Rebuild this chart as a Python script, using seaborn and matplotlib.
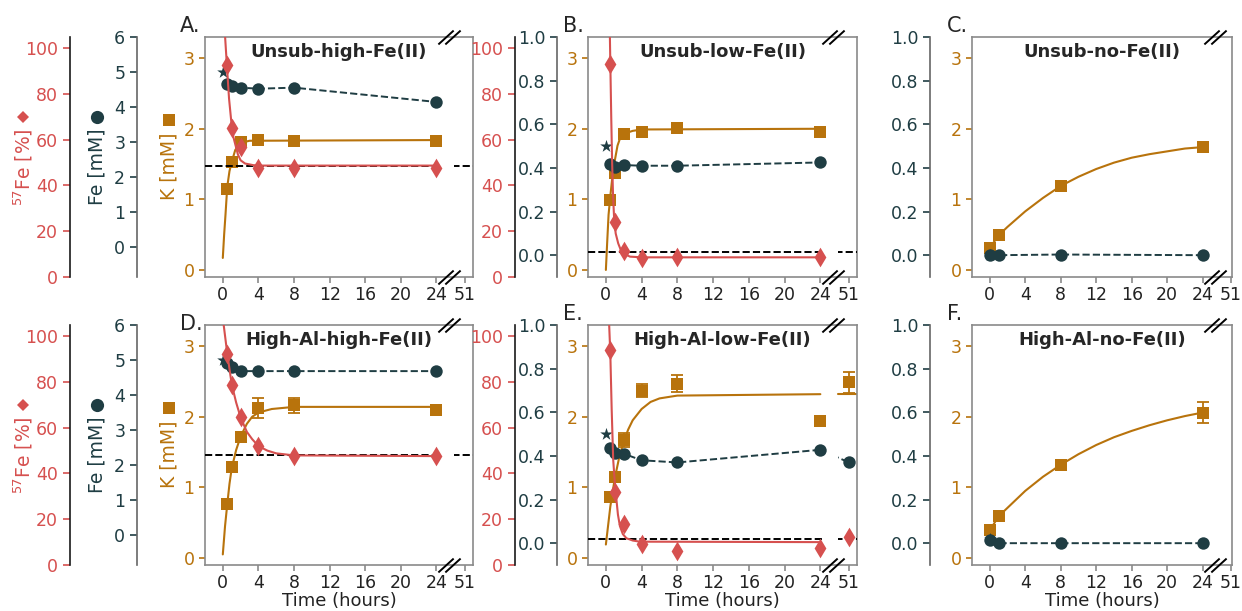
import numpy as np
import matplotlib
matplotlib.use("Agg")
import matplotlib.pyplot as plt
import seaborn as sns
from matplotlib.path import Path
from matplotlib.transforms import blended_transform_factory

sns.set_theme(style="ticks")
plt.rcParams["font.family"] = ["DejaVu Sans"]

RED = "#d6504f"
BROWN = "#b8730c"
DARK = "#1f3d43"

# ---------------- data (hours; 51 h sits behind the axis break) ----------------
# A. Unsub-high-Fe(II)
a_t = [0.5, 1, 2, 4, 8, 24]
a_fe = [4.65, 4.60, 4.55, 4.52, 4.55, 4.14]
a_k = [1.15, 1.53, 1.81, 1.84, 1.83, 1.83]
a_k_err = [0, 0, 0.06, 0, 0, 0]
a_fe57 = [92.5, 65.2, 57.0, 47.6, 47.6, 47.6]
a_fe0 = 5.0
a_eq = 48.3
a_kfit_t = [0, 0.15, 0.3, 0.5, 0.75, 1.0, 1.4, 2.0, 3.0, 24]
a_kfit = [0.17, 0.50, 0.78, 1.18, 1.40, 1.53, 1.70, 1.80, 1.83, 1.84]
a_fefit_t = [0.15, 0.26, 0.45, 0.7, 1.0, 1.2, 1.4, 1.7, 2.0, 2.5, 3.4, 4, 24]
a_fefit = [115, 104.8, 93, 78, 66, 61, 58, 53.5, 51, 49.6, 48.9, 48.7, 48.7]

# B. Unsub-low-Fe(II)
b_t = [0.5, 1, 2, 4, 8, 24]
b_fe = [0.417, 0.405, 0.413, 0.41, 0.41, 0.425]
b_k = [0.99, 1.38, 1.93, 1.96, 2.01, 1.95]
b_k_err = [0.04, 0, 0.03, 0, 0, 0]
b_fe57 = [93.0, 24.0, 11.5, 8.2, 8.7, 8.8]
b_fe0 = 0.50
b_eq = 11.1
b_kfit_t = [0, 0.15, 0.3, 0.5, 0.8, 1.0, 1.3, 1.6, 2.0, 3, 4, 24]
b_kfit = [0.0, 0.40, 0.78, 1.05, 1.40, 1.55, 1.76, 1.87, 1.93, 1.97, 1.99, 2.0]
b_fefit_t = [0.4, 0.45, 0.5, 0.6, 0.7, 0.8, 0.93, 1.1, 1.38, 1.7, 2.0, 2.7, 4, 24]
b_fefit = [115, 104.8, 93, 70, 50, 36, 25, 19, 14.7, 11.5, 10.2, 8.9, 8.6, 8.6]

# C. Unsub-no-Fe(II)
c_t = [0, 1, 8, 24]
c_fe = [0.0, 0.0, 0.003, 0.0]
c_k = [0.31, 0.49, 1.19, 1.74]
c_k_err = [0, 0, 0.04, 0]
c_fe0 = 0.0
c_kfit_t = [0, 1, 2, 4, 6, 8, 10, 12, 14, 16, 18, 20, 22, 24]
c_kfit = [0.31, 0.49, 0.61, 0.83, 1.02, 1.19, 1.32, 1.43, 1.52, 1.59, 1.64, 1.68, 1.72, 1.74]

# D. High-Al-high-Fe(II)
d_t = [0.5, 1, 2, 4, 8, 24]
d_fe = [4.90, 4.81, 4.68, 4.68, 4.68, 4.68]
d_k = [0.76, 1.29, 1.72, 2.12, 2.16, 2.10]
d_k_err = [0.03, 0.03, 0.03, 0.14, 0.10, 0.03]
d_fe57 = [92.4, 78.6, 64.5, 52.0, 47.6, 47.6]
d_fe0 = 5.0
d_eq = 48.1
d_kfit_t = [0, 0.25, 0.5, 0.75, 1, 1.5, 2, 2.7, 3.3, 4, 5.5, 8, 24]
d_kfit = [0.05, 0.45, 0.76, 1.05, 1.27, 1.53, 1.72, 1.90, 2.0, 2.06, 2.11, 2.14, 2.14]
d_fefit_t = [0, 0.5, 1, 1.5, 2, 2.7, 3.3, 4, 5, 6, 8, 24]
d_fefit = [108, 92.4, 79, 71, 64.5, 58.2, 55, 52, 50, 48.8, 47.9, 47.6]

# E. High-Al-low-Fe(II)
e_t = [0.5, 1, 2, 4, 8, 24, 51]
e_fe = [0.437, 0.415, 0.41, 0.38, 0.37, 0.428, 0.37]
e_k = [0.86, 1.15, 1.67, 2.37, 2.47, 1.94, 2.49]
e_k_err = [0.03, 0.03, 0.10, 0.09, 0.12, 0.0, 0.15]
e_fe57 = [93.9, 31.7, 17.9, 9.0, 6.3, 7.6, 12.1]
e_fe0 = 0.50
e_eq = 11.2
e_kfit_t = [0, 0.5, 1, 1.5, 2, 2.5, 3, 4, 5, 6, 8, 24]
e_kfit = [0.19, 0.73, 1.13, 1.43, 1.65, 1.82, 1.95, 2.11, 2.21, 2.26, 2.30, 2.32]
e_fefit_t = [0.3, 0.37, 0.5, 0.65, 0.82, 1.0, 1.12, 1.35, 1.57, 1.9, 2.3, 3, 3.8, 24]
e_fefit = [115, 104.8, 92, 68, 46, 36, 31, 22, 17, 13.5, 11.7, 10.7, 10.2, 10.0]

# F. High-Al-no-Fe(II)
f_t = [0, 1, 8, 24]
f_fe = [0.015, 0.0, 0.0, 0.0]
f_k = [0.39, 0.59, 1.32, 2.06]
f_k_err = [0.02, 0.02, 0.03, 0.15]
f_fe0 = 0.02
f_kfit_t = [0, 1, 2, 4, 6, 8, 10, 12, 14, 16, 18, 20, 22, 24]
f_kfit = [0.39, 0.59, 0.71, 0.95, 1.15, 1.32, 1.47, 1.60, 1.71, 1.80, 1.88, 1.95, 2.01, 2.06]

x_ticks = [0, 4, 8, 12, 16, 20, 24, 51]
x_ticklabels = ["0", "4", "8", "12", "16", "20", "24", "51"]

# ---------------- layout ----------------
W, H = 1242, 611
XMIN = -2.0
GAP = (24.5, 26.0)   # hidden stretch of the time axis
BREAK_AT = 25.4      # where the // marks sit
POS_51 = 27.2        # plotted position of the 51 h point


def xpos(t):
    t = np.asarray(t, dtype=float)
    return np.where(t > 24, POS_51, t)


def clip_gap(artist, ax, xmax):
    tr = blended_transform_factory(ax.transData, ax.transAxes)
    verts = [(XMIN, 0), (GAP[0], 0), (GAP[0], 1), (XMIN, 1), (XMIN, 0),
             (GAP[1], 0), (xmax, 0), (xmax, 1), (GAP[1], 1), (GAP[1], 0)]
    codes = [Path.MOVETO, Path.LINETO, Path.LINETO, Path.LINETO, Path.CLOSEPOLY] * 2
    artist.set_clip_path(Path(verts, codes), tr)


def add_twin(ax, frac, lim, ticks, color, spine_color):
    tw = ax.twinx()
    tw.set_ylim(*lim)
    tw.set_yticks(ticks)
    sp = tw.spines["left"]
    sp.set_visible(True)
    sp.set_position(("axes", frac))
    sp.set_color(spine_color)
    sp.set_linewidth(1.2)
    for s in ("right", "top", "bottom"):
        tw.spines[s].set_visible(False)
    tw.yaxis.set_ticks_position("left")
    tw.yaxis.set_label_position("left")
    tw.tick_params(axis="y", colors=color, labelsize=12.5, length=5, width=1.2)
    return tw


BREAK_MARK = Path([(-0.8, -0.5), (0.3, 0.5), (-0.3, -0.5), (0.8, 0.5)],
                  [Path.MOVETO, Path.LINETO, Path.MOVETO, Path.LINETO])

fig = plt.figure(figsize=(W / 100, H / 100), dpi=100)


def fig_pt(x_px, y_px):
    return x_px / W, 1 - y_px / H


def side_label(text, x_px, y_px, color, marker, ms, m_dy):
    fx, fy = fig_pt(x_px, y_px)
    fig.text(fx, fy, text, rotation=90, ha="center", va="center",
             color=color, fontsize=13.5)
    mx, my = fig_pt(x_px, y_px - m_dy)
    fig.add_artist(plt.Line2D([mx], [my], ls="none", marker=marker, ms=ms,
                              color=color, mew=0))


def panel(px, py, letter, title, t, fe, k, k_err, fe0, kfit_t, kfit,
          fe_px, fe_lim, fe_ticks, fe57=None, eq=None, fefit_t=None, fefit=None,
          red_px=None, xmax=28.1, labels=False, xlabel=False, k_tail=False,
          letter_y=1.02):
    x0, x1 = px
    y0, y1 = py
    w = x1 - x0
    ax = fig.add_axes([x0 / W, (H - y1) / H, w / W, (y1 - y0) / H])
    ax.set_xlim(XMIN, xmax)
    ax.set_ylim(-0.1, 3.3)
    for s in ax.spines.values():
        s.set_color("#8a8a8a")
        s.set_linewidth(1.2)

    # K on the main axis
    sns.lineplot(x=xpos(kfit_t), y=kfit, ax=ax, color=BROWN, lw=1.5, estimator=None)
    clip_gap(ax.lines[-1], ax, xmax)
    if k_tail:
        ax.axhline(kfit[-1], xmin=(GAP[1] - XMIN) / (xmax - XMIN), xmax=1,
                   color=BROWN, lw=1.5)
    ax.errorbar(xpos(t), k, yerr=k_err, fmt="none", ecolor=BROWN,
                elinewidth=1.3, capsize=4, capthick=1.3, zorder=2.5)
    sns.scatterplot(x=xpos(t), y=k, ax=ax, marker="s", s=65, color=BROWN,
                    linewidth=0, zorder=3)
    ax.set_yticks([0, 1, 2, 3])
    ax.tick_params(axis="y", color=BROWN, labelcolor=BROWN, labelsize=12.5,
                   length=4, width=1.2)
    ax.set_xticks([float(v) for v in xpos(x_ticks)])
    ax.set_xticklabels(x_ticklabels)
    ax.tick_params(axis="x", color="#8a8a8a", labelcolor="#222222",
                   labelsize=12.5, length=4, width=1.2, pad=2.5)
    ax.set_ylabel("")
    ax.set_xlabel("")

    # Fe on the first twin
    axf = add_twin(ax, (fe_px - x0) / w, fe_lim, fe_ticks, DARK, "#666666")
    sns.lineplot(x=xpos(t), y=fe, ax=axf, color=DARK, lw=1.4, linestyle="--",
                 estimator=None)
    clip_gap(axf.lines[-1], axf, xmax)
    sns.scatterplot(x=xpos(t), y=fe, ax=axf, marker="o", s=80, color=DARK,
                    linewidth=0, zorder=3)
    sns.scatterplot(x=[0.0], y=[fe0], ax=axf, marker="*", s=90, color=DARK,
                    linewidth=0, zorder=3)
    axf.set_ylabel("")

    # 57Fe on the second twin
    axr = None
    if fe57 is not None:
        axr = add_twin(ax, (red_px - x0) / w, (0, 104.9), range(0, 101, 20),
                       RED, "#1a1a1a")
        ln = axr.axhline(eq, color="black", lw=1.4, ls="--")
        clip_gap(ln, axr, xmax)
        sns.lineplot(x=xpos(fefit_t), y=fefit, ax=axr, color=RED, lw=1.5,
                     estimator=None)
        clip_gap(axr.lines[-1], axr, xmax)
        sns.scatterplot(x=xpos(t), y=fe57, ax=axr, marker="d", s=100, color=RED,
                        linewidth=0, zorder=3)
        axr.set_ylabel("")

    ax.set_xlim(XMIN, xmax)

    # axis break marks
    tr = blended_transform_factory(ax.transData, ax.transAxes)
    top = axr if axr is not None else axf
    top.plot([BREAK_AT, BREAK_AT], [0, 1], transform=tr, ls="none",
             marker=BREAK_MARK, ms=16, mec="black", mew=1.4, clip_on=False,
             zorder=6)

    ax.text(0.5, 0.915, title, transform=ax.transAxes, ha="center",
            va="baseline", fontsize=13, fontweight="bold", zorder=6)
    ax.text(-25 / w, letter_y, letter, transform=ax.transAxes,
            ha="left", va="baseline", fontsize=15)

    if labels:
        side_label("$^{57}$Fe [%]", 23, y0 + 130, RED, "D", 6.0, 50)
        side_label("Fe [mM]", 97, y0 + 130, DARK, "o", 9.5, 50)
        side_label("K [mM]", 169, y0 + 129, BROWN, "s", 9.0, 46)
    if xlabel:
        ax.set_xlabel("Time (hours)", fontsize=13, color="#222222", labelpad=0)
    return ax


ROW1 = (37, 277)
ROW2 = (325, 565)
FE_HIGH = dict(fe_lim=(-0.87, 6), fe_ticks=range(0, 7))
FE_LOW = dict(fe_lim=(-0.1, 1.0), fe_ticks=np.round(np.arange(0, 1.01, 0.2), 1))

panel((205, 473), ROW1, "A.", "Unsub-high-Fe(II)", a_t, a_fe, a_k, a_k_err, a_fe0,
      a_kfit_t, a_kfit, 137, fe57=a_fe57, eq=a_eq, fefit_t=a_fefit_t,
      fefit=a_fefit, red_px=70, labels=True, **FE_HIGH)
panel((588, 857), ROW1, "B.", "Unsub-low-Fe(II)", b_t, b_fe, b_k, b_k_err, b_fe0,
      b_kfit_t, b_kfit, 557, fe57=b_fe57, eq=b_eq, fefit_t=b_fefit_t,
      fefit=b_fefit, red_px=515, **FE_LOW)
panel((972, 1232), ROW1, "C.", "Unsub-no-Fe(II)", c_t, c_fe, c_k, c_k_err, c_fe0,
      c_kfit_t, c_kfit, 930, xmax=27.3, **FE_LOW)
panel((205, 473), ROW2, "D.", "High-Al-high-Fe(II)", d_t, d_fe, d_k, d_k_err, d_fe0,
      d_kfit_t, d_kfit, 137, fe57=d_fe57, eq=d_eq, fefit_t=d_fefit_t,
      fefit=d_fefit, red_px=70, labels=True, xlabel=True, letter_y=0.98, **FE_HIGH)
panel((588, 857), ROW2, "E.", "High-Al-low-Fe(II)", e_t, e_fe, e_k, e_k_err, e_fe0,
      e_kfit_t, e_kfit, 557, fe57=e_fe57, eq=e_eq, fefit_t=e_fefit_t,
      fefit=e_fefit, red_px=515, xlabel=True, k_tail=True, **FE_LOW)
panel((972, 1232), ROW2, "F.", "High-Al-no-Fe(II)", f_t, f_fe, f_k, f_k_err, f_fe0,
      f_kfit_t, f_kfit, 930, xmax=27.3, xlabel=True, **FE_LOW)

fig.savefig("out.png", dpi=100)
